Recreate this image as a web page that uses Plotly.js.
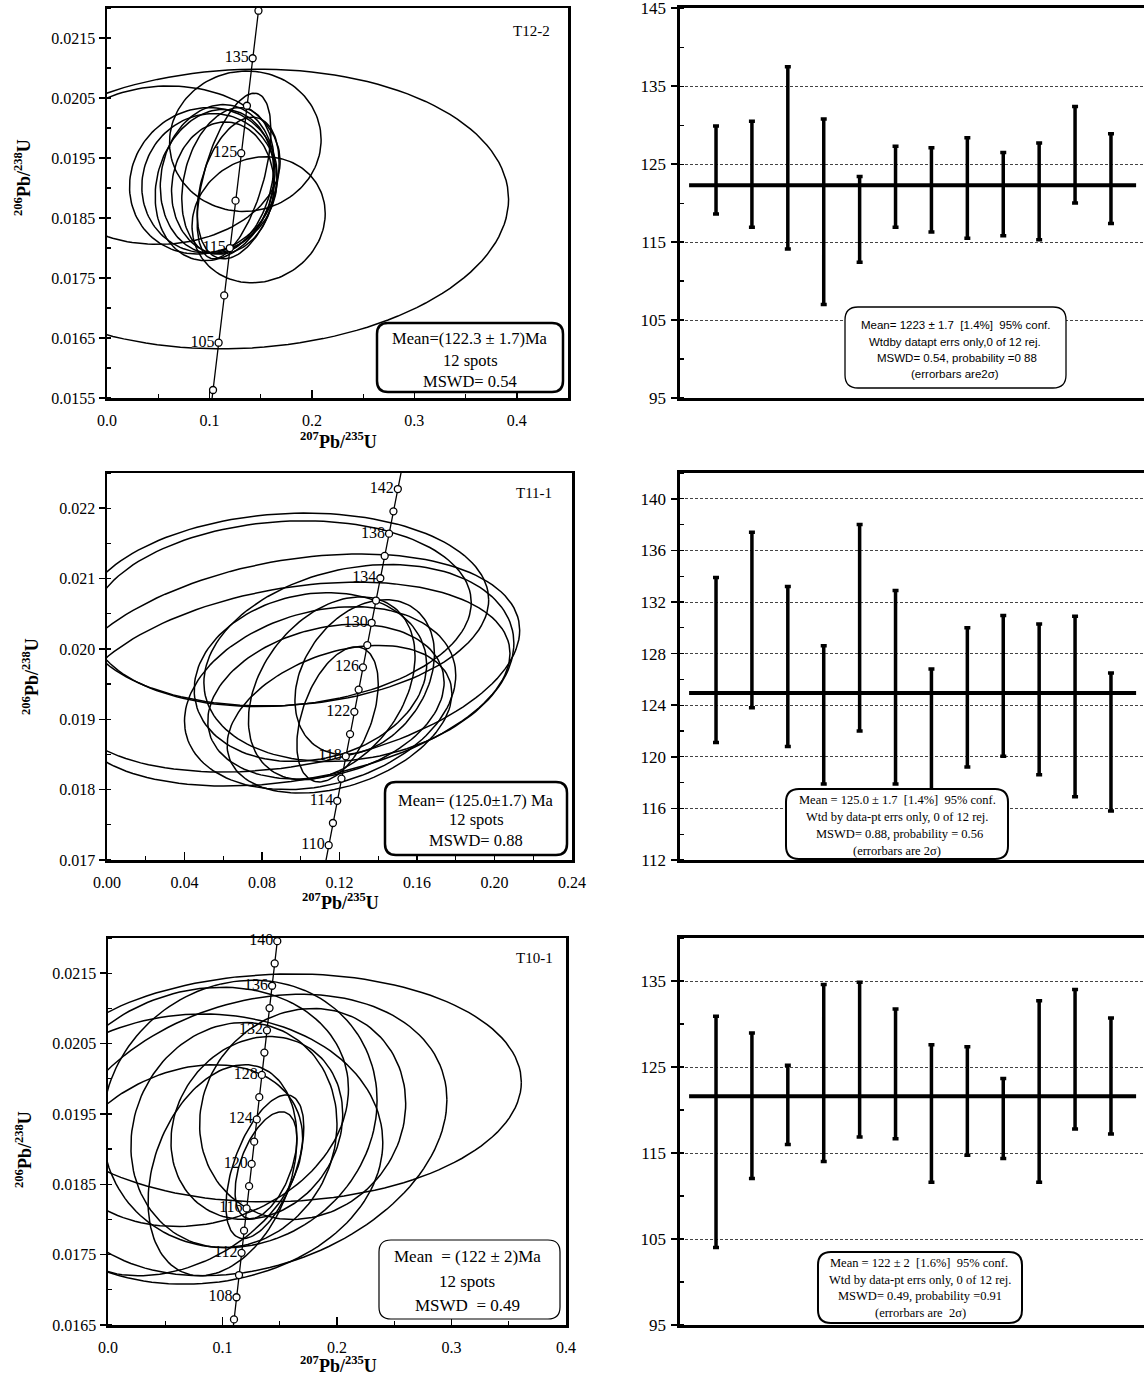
<!DOCTYPE html>
<html><head><meta charset="utf-8">
<script src="https://cdn.plot.ly/plotly-3.0.1.min.js"></script>
<style>html,body{margin:0;padding:0;background:#fff}#chart{width:1144px;height:1376px}</style>
</head><body><div id="chart"></div>
<script>
// ---------- Concordia reference values (age in Ma, 206Pb/238U, 207Pb/235U) ----------
const concAges = [98,100,102,104,105,106,108,110,112,114,115,116,118,120,122,124,125,126,128,130,132,134,135,136,138,140,142,144,146];
const conc206 = [0.0153184,0.0156334,0.0159486,0.0162638,0.0164215,0.0165792,0.0168946,0.0172102,0.0175258,0.0178415,0.0179995,0.0181574,0.0184733,0.0187893,0.0191055,0.0194217,0.0195798,0.0197380,0.0200544,0.0203710,0.0206876,0.0210043,0.0211627,0.0213211,0.0216380,0.0219550,0.0222721,0.0225894,0.0229067];
const conc207 = [0.1013264,0.1034978,0.1056736,0.1078536,0.1089452,0.1100378,0.1122264,0.1144193,0.1166166,0.1188181,0.1199206,0.1210240,0.1232343,0.1254489,0.1276679,0.1298913,0.1310046,0.1321190,0.1343511,0.1365877,0.1388286,0.1410740,0.1421983,0.1433238,0.1455780,0.1478367,0.1500998,0.1523674,0.1546394];

const p1MarkAges = [100,105,110,115,120,125,130,135,140];
const p1LabelAges = [105,115,125,135];
const p2MarkAges = [110,112,114,116,118,120,122,124,126,128,130,132,134,136,138,140,142];
const p2LabelAges = [110,114,118,122,126,130,134,138,142];
const p3MarkAges = [106,108,110,112,114,116,118,120,122,124,126,128,130,132,134,136,138,140];
const p3LabelAges = [108,112,116,120,124,128,132,136,140];

// ---------- Error ellipses: 207/235 centre, half width, 206/238 centre, half height, error correlation ----------
const t12_x207 = [0.130,0.055,0.135,0.148,0.094,0.100,0.105,0.124,0.118,0.113,0.108,0.128];
const t12_sx   = [0.262,0.114,0.074,0.065,0.072,0.066,0.058,0.036,0.045,0.050,0.056,0.040];
const t12_y206 = [0.01865,0.01938,0.01978,0.01847,0.01912,0.01908,0.01905,0.01920,0.01912,0.01900,0.01915,0.01900];
const t12_sy   = [0.00233,0.00132,0.00117,0.00105,0.00122,0.00116,0.00126,0.00138,0.00122,0.00110,0.00124,0.00118];
const t12_rho  = [0.07,0.05,0.02,0.10,0.08,0.05,0.15,0.55,0.25,0.05,0.10,0.35];

const t11_x207 = [0.092,0.090,0.095,0.095,0.130,0.110,0.113,0.116,0.133,0.119,0.120,0.105];
const t11_sx   = [0.105,0.098,0.118,0.113,0.080,0.070,0.061,0.043,0.036,0.021,0.058,0.060];
const t11_y206 = [0.02056,0.02050,0.01980,0.01950,0.01980,0.01930,0.01925,0.01944,0.01960,0.01907,0.01900,0.01960];
const t11_sy   = [0.00137,0.00132,0.00155,0.00145,0.00140,0.00130,0.00110,0.00130,0.00110,0.00096,0.00105,0.00120];
const t11_rho  = [0.10,0.12,0.30,0.30,0.20,0.25,0.25,0.35,0.30,0.45,0.35,0.15];

const t10_x207 = [0.150,0.126,0.075,0.080,0.060,0.115,0.137,0.138,0.100,0.110,0.130,0.170];
const t10_sx   = [0.211,0.170,0.165,0.130,0.110,0.120,0.034,0.027,0.065,0.090,0.075,0.090];
const t10_y206 = [0.01987,0.01920,0.01900,0.01960,0.01870,0.01950,0.01875,0.01877,0.01870,0.01920,0.01930,0.01950];
const t10_sy   = [0.00162,0.00200,0.00192,0.00170,0.00150,0.00190,0.00102,0.00076,0.00150,0.00160,0.00130,0.00150];
const t10_rho  = [0.05,0.25,0.05,0.15,0.30,0.10,0.55,0.50,0.30,0.10,0.15,0.10];

// ---------- Weighted mean plots: spot ages and 2-sigma errors (Ma) ----------
const spots = [1,2,3,4,5,6,7,8,9,10,11,12];
const t12_age = [124.25,123.7,125.8,118.9,117.9,122.1,121.7,121.95,121.15,121.5,126.2,123.15];
const t12_err = [5.65,6.8,11.7,11.9,5.5,5.2,5.4,6.45,5.35,6.2,6.2,5.75];
const t11_age = [127.5,130.6,127.0,123.25,130.0,125.4,121.7,124.6,125.5,124.45,123.9,121.15];
const t11_err = [6.4,6.8,6.2,5.35,8.0,7.5,5.1,5.4,5.45,5.85,7.0,5.35];
const t10_age = [117.45,120.5,120.6,124.3,125.85,124.2,119.6,121.05,119.0,122.15,125.9,123.95];
const t10_err = [13.45,8.46,4.6,10.3,9.0,7.55,8.0,6.3,4.65,10.55,8.1,6.75];
const meanAge = [122.3, 124.95, 121.6];

// ---------- helpers ----------
const W = 1144, H = 1376;
const SERIF = 'Liberation Serif, Times New Roman, serif';
const SANS = 'Liberation Sans, Arial, sans-serif';

function ellipseTrace(cx, sx, cy, sy, rho, xa, ya) {
  const xs = [], ys = [];
  const n = 140;
  for (let i = 0; i < cx.length; i++) {
    const k = Math.sqrt(1 - rho[i] * rho[i]);
    for (let j = 0; j <= n; j++) {
      const t = 2 * Math.PI * j / n;
      xs.push(cx[i] + sx[i] * Math.cos(t));
      ys.push(cy[i] + sy[i] * (rho[i] * Math.cos(t) + k * Math.sin(t)));
    }
    xs.push(null); ys.push(null);
  }
  return {type:'scatter', mode:'lines', x:xs, y:ys, xaxis:xa, yaxis:ya,
          line:{color:'#000', width:1.5}, hoverinfo:'skip', showlegend:false};
}
function pick(ages, arr) { return ages.map(a => arr[concAges.indexOf(a)]); }
function concordiaTraces(markAges, labelAges, xa, ya) {
  return [
    {type:'scatter', mode:'lines', x:conc207, y:conc206, xaxis:xa, yaxis:ya,
     line:{color:'#000', width:1.3}, showlegend:false, hoverinfo:'skip'},
    {type:'scatter', mode:'markers', x:pick(markAges, conc207), y:pick(markAges, conc206), xaxis:xa, yaxis:ya,
     marker:{symbol:'circle', size:7, color:'#fff', line:{color:'#000', width:1.3}}, showlegend:false, cliponaxis:false},
    {type:'scatter', mode:'text', x:pick(labelAges, conc207), y:pick(labelAges, conc206), xaxis:xa, yaxis:ya,
     text:labelAges.map(a => String(a) + '\u00a0'), textposition:'middle left',
     textfont:{family:SERIF, size:16, color:'#000'}, showlegend:false, cliponaxis:false}
  ];
}
function meanTraces(ages, errs, mean, xa, ya) {
  return [
    {type:'scatter', mode:'markers', x:spots, y:ages, xaxis:xa, yaxis:ya,
     marker:{size:2, color:'rgba(0,0,0,0)'},
     error_y:{type:'data', array:errs, visible:true, thickness:3.5, width:3, color:'#000'}, showlegend:false},
    {type:'scatter', mode:'lines', x:[0.25, 12.7], y:[mean, mean], xaxis:xa, yaxis:ya,
     line:{color:'#000', width:4}, showlegend:false}
  ];
}

const data = [].concat(
  [ellipseTrace(t12_x207, t12_sx, t12_y206, t12_sy, t12_rho, 'x', 'y')],
  concordiaTraces(p1MarkAges, p1LabelAges, 'x', 'y'),
  meanTraces(t12_age, t12_err, meanAge[0], 'x2', 'y2'),
  [ellipseTrace(t11_x207, t11_sx, t11_y206, t11_sy, t11_rho, 'x3', 'y3')],
  concordiaTraces(p2MarkAges, p2LabelAges, 'x3', 'y3'),
  meanTraces(t11_age, t11_err, meanAge[1], 'x4', 'y4'),
  [ellipseTrace(t10_x207, t10_sx, t10_y206, t10_sy, t10_rho, 'x5', 'y5')],
  concordiaTraces(p3MarkAges, p3LabelAges, 'x5', 'y5'),
  meanTraces(t10_age, t10_err, meanAge[2], 'x6', 'y6')
);

const rowY = [[1-398/H, 1-8/H], [1-860/H, 1-473/H], [1-1325/H, 1-938/H]];
const leftX = [[107/W, 568/W], [107/W, 572/W], [108/W, 566/W]];
const rightX = [679.5/W, 1];

function leftXAxis(dom, range, dtick, minor, fmt, anchor) {
  return {domain:dom, range:range, anchor:anchor, dtick:dtick, tick0:0, tickformat:fmt,
    ticks:'inside', ticklen:8, tickwidth:1.5, tickcolor:'#000',
    minor:{ticks:'inside', dtick:minor, tick0:0, ticklen:4, tickwidth:1.2, tickcolor:'#000', showgrid:false},
    showline:true, linewidth:2.5, linecolor:'#000', mirror:true, showgrid:false, zeroline:false,
    ticklabelstandoff:6, tickfont:{family:SERIF, size:16, color:'#000'}};
}
function leftYAxis(dom, range, tick0, fmt, anchor) {
  return {domain:dom, range:range, anchor:anchor, dtick:0.001, tick0:tick0, tickformat:fmt,
    ticks:'outside', ticklen:6, tickwidth:1.5, tickcolor:'#000',
    minor:{ticks:'inside', dtick:0.0005, tick0:tick0, ticklen:4, tickwidth:1.2, tickcolor:'#000', showgrid:false},
    showline:true, linewidth:2.5, linecolor:'#000', mirror:true, showgrid:false, zeroline:false,
    ticklabeloverflow:'allow',
    tickfont:{family:SERIF, size:16, color:'#000'}};
}
function rightXAxis(anchor) {
  return {domain:rightX, range:[-0.017, 12.92], anchor:anchor, showticklabels:false, ticks:'',
    showline:true, linewidth:3, linecolor:'#000', mirror:true, showgrid:false, zeroline:false};
}
function rightYAxis(dom, range, tick0, dtick, minor, anchor) {
  return {domain:dom, range:range, anchor:anchor, tick0:tick0, dtick:dtick,
    ticks:'outside', ticklen:6, tickwidth:1.5, tickcolor:'#000',
    minor:{ticks:'inside', dtick:minor, tick0:tick0, ticklen:4, tickwidth:1.2, tickcolor:'#000', showgrid:false},
    showline:true, linewidth:3, linecolor:'#000', mirror:false, zeroline:false,
    showgrid:true, gridcolor:'#444', gridwidth:1, griddash:'3px,2px',
    ticklabelstandoff:1, ticklabeloverflow:'allow',
    tickfont:{family:SERIF, size:17, color:'#000'}};
}

function rr(x0, y0, x1, y1, r) {
  const X = v => (v / W).toFixed(5), Y = v => (1 - v / H).toFixed(5);
  return `M${X(x0+r)},${Y(y0)} L${X(x1-r)},${Y(y0)} Q${X(x1)},${Y(y0)} ${X(x1)},${Y(y0+r)} ` +
         `L${X(x1)},${Y(y1-r)} Q${X(x1)},${Y(y1)} ${X(x1-r)},${Y(y1)} L${X(x0+r)},${Y(y1)} ` +
         `Q${X(x0)},${Y(y1)} ${X(x0)},${Y(y1-r)} L${X(x0)},${Y(y0+r)} Q${X(x0)},${Y(y0)} ${X(x0+r)},${Y(y0)} Z`;
}
function box(x0, y0, x1, y1, r, lw) {
  return {type:'path', xref:'paper', yref:'paper', path:rr(x0, y0, x1, y1, r),
          line:{color:'#000', width:lw}, fillcolor:'#fff', layer:'above'};
}
function txt(text, x, y, size, family, opts) {
  return Object.assign({text:text, xref:'paper', yref:'paper', x:x / W, y:1 - y / H,
    xanchor:'center', yanchor:'middle', showarrow:false, font:{family:family, size:size, color:'#000'}}, opts || {});
}

const shapes = [
  box(377, 323, 563, 392, 11, 2.5),
  box(845, 307, 1066, 388, 13, 1.3),
  box(385, 782, 567, 855, 11, 2.5),
  box(786, 789, 1008, 859, 13, 2),
  box(379, 1240, 560, 1319, 12, 1.2),
  box(818, 1252, 1022, 1323, 13, 2)
];

const yTitle = '<b><sup>206</sup>Pb/<sup>238</sup>U</b>';
const xTitle = '<b><sup>207</sup>Pb/<sup>235</sup>U</b>';
const annotations = [
  txt(yTitle, 22, 178, 18, SERIF, {textangle:-90}),
  txt(yTitle, 30, 677, 18, SERIF, {textangle:-90}),
  txt(yTitle, 23, 1150, 18, SERIF, {textangle:-90}),
  txt(xTitle, 338, 441, 18, SERIF),
  txt(xTitle, 340, 901, 18, SERIF),
  txt(xTitle, 338, 1364, 18, SERIF),
  txt('T12-2', 531, 31, 15, SERIF),
  txt('T11-1', 534, 493, 15, SERIF),
  txt('T10-1', 534, 958, 15, SERIF),
  txt('Mean=(122.3 ± 1.7)Ma', 470, 339, 16.5, SERIF),
  txt('12 spots', 470, 360, 16.5, SERIF),
  txt('MSWD= 0.54', 470, 381, 16.5, SERIF),
  txt('Mean= (125.0±1.7) Ma', 476, 800, 16.5, SERIF),
  txt('12 spots', 476, 820, 16.5, SERIF),
  txt('MSWD= 0.88', 476, 840, 16.5, SERIF),
  txt('Mean  = (122 ± 2)Ma', 467, 1256, 17, SERIF),
  txt('12 spots', 467, 1281, 17, SERIF),
  txt('MSWD  = 0.49', 467, 1305, 17, SERIF),
  txt('Mean= 1223 ± 1.7  [1.4%]  95% conf.', 955, 325, 11.5, SANS),
  txt('Wtdby datapt errs only,0 of 12 rej.', 955, 342, 11.5, SANS),
  txt('MSWD= 0.54, probability =0 88', 957, 358, 11.5, SANS),
  txt('(errorbars are2σ)', 955, 374, 11.5, SANS),
  txt('Mean = 125.0 ± 1.7  [1.4%]  95% conf.', 897, 800, 12.5, SERIF),
  txt('Wtd by data-pt errs only, 0 of 12 rej.', 897, 817, 12.5, SERIF),
  txt('MSWD= 0.88, probability = 0.56', 899, 834, 12.5, SERIF),
  txt('(errorbars are 2σ)', 897, 851, 12.5, SERIF),
  txt('Mean = 122 ± 2  [1.6%]  95% conf.', 919, 1263, 12.5, SERIF),
  txt('Wtd by data-pt errs only, 0 of 12 rej.', 920, 1280, 12.5, SERIF),
  txt('MSWD= 0.49, probability =0.91', 920, 1296, 12.5, SERIF),
  txt('(errorbars are  2σ)', 920, 1313, 12.5, SERIF)
];

const layout = {
  width:W, height:H, margin:{l:0, r:0, t:0, b:0}, paper_bgcolor:'#fff', plot_bgcolor:'#fff',
  showlegend:false, font:{family:SERIF, color:'#000'},
  xaxis: leftXAxis(leftX[0], [0, 0.45], 0.1, 0.05, '.1f', 'y'),
  yaxis: leftYAxis(rowY[0], [0.0155, 0.0220], 0.0155, '.4f', 'x'),
  xaxis2: rightXAxis('y2'),
  yaxis2: rightYAxis(rowY[0], [95, 145.03], 95, 10, 5, 'x2'),
  xaxis3: leftXAxis(leftX[1], [0, 0.24], 0.04, 0.02, '.2f', 'y3'),
  yaxis3: leftYAxis(rowY[1], [0.017, 0.0225], 0.017, '.3f', 'x3'),
  xaxis4: rightXAxis('y4'),
  yaxis4: rightYAxis(rowY[1], [112, 142], 112, 4, 2, 'x4'),
  xaxis5: leftXAxis(leftX[2], [0, 0.4], 0.1, 0.05, '.1f', 'y5'),
  yaxis5: leftYAxis(rowY[2], [0.0165, 0.0220], 0.0165, '.4f', 'x5'),
  xaxis6: rightXAxis('y6'),
  yaxis6: rightYAxis(rowY[2], [95, 140], 95, 10, 5, 'x6'),
  shapes:shapes, annotations:annotations
};

Plotly.newPlot('chart', data, layout, {staticPlot:true, displayModeBar:false});
</script></body></html>
